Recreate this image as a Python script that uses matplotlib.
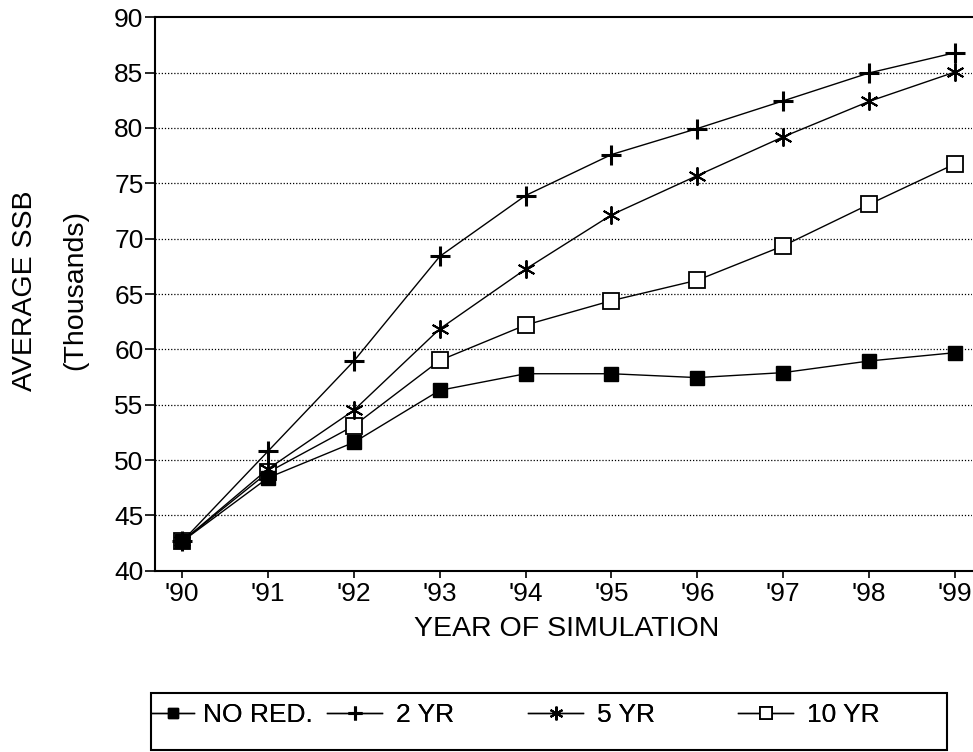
import matplotlib
matplotlib.use("Agg")
import matplotlib.pyplot as plt
from matplotlib.patches import Rectangle

plt.rcParams['font.family'] = ['Liberation Sans', 'DejaVu Sans']

years = ["'90", "'91", "'92", "'93", "'94", "'95", "'96", "'97", "'98", "'99"]
no_red = [42.65, 48.4, 51.6, 56.3, 57.8, 57.8, 57.45, 57.9, 58.95, 59.7]
yr2 = [42.65, 50.8, 58.95, 68.4, 73.9, 77.6, 79.95, 82.45, 84.97, 86.8]
yr5 = [42.65, 49.2, 54.5, 61.85, 67.25, 72.15, 75.7, 79.2, 82.4, 85.05]
yr10 = [42.65, 48.9, 53.1, 59.0, 62.2, 64.4, 66.25, 69.35, 73.1, 76.75]
labels = ["NO RED.", "2 YR", "5 YR", "10 YR"]
yticks = [40, 45, 50, 55, 60, 65, 70, 75, 80, 85, 90]

fig = plt.figure(figsize=(9.73, 7.52), dpi=100)
ax = fig.add_axes([0.159, 0.241, 0.84, 0.736])
x = list(range(len(years)))

l10, = ax.plot(x, yr10, color='black', lw=1.0, marker='s', ms=11, mfc='white', mec='black', mew=1.3, zorder=3)
l5, = ax.plot(x, yr5, color='black', lw=1.0, marker=(6, 2, 0), ms=13, mec='black', mew=1.4, zorder=4)
l2, = ax.plot(x, yr2, color='black', lw=1.0, marker='+', ms=14, mec='black', mew=2.2, zorder=5)
l0, = ax.plot(x, no_red, color='black', lw=1.0, marker='s', ms=10, mfc='black', mec='black', zorder=6)

ax.set_xlim(-0.32, 9.2)
ax.set_ylim(40, 90)
ax.set_yticks(yticks)
ax.set_xticks(x)
ax.set_xticklabels(years)
ax.tick_params(axis='both', labelsize=19, direction='out', width=1.2, colors='black')
ax.tick_params(axis='x', length=5, pad=3)
ax.tick_params(axis='y', length=7, pad=1)
for yv in yticks[1:-1]:
    ax.axhline(yv, color='black', lw=0.9, ls=(0, (1, 1.5)), zorder=1)
ax.spines['right'].set_visible(False)
for s in ['left', 'bottom', 'top']:
    ax.spines[s].set_linewidth(1.5)

fig.text(0.582, 0.164, "YEAR OF SIMULATION", ha='center', va='center', fontsize=20.5)
fig.text(0.026, 0.614, "AVERAGE SSB", rotation=90, ha='center', va='center', fontsize=20.5)
fig.text(0.077, 0.614, "(Thousands)", rotation=90, ha='center', va='center', fontsize=20.5)

# legend box
fig.add_artist(Rectangle((0.155, 0.003), 0.818, 0.076, transform=fig.transFigure,
                         fill=False, edgecolor='black', lw=1.5))
handles = [l0, l2, l5, l10]
starts = [152, 327, 528, 738]
hlens = [1.6, 2.1, 2.1, 2.1]
pads = [0.35, 0.5, 0.5, 0.5]
for hnd, lab, sx, hl, pd in zip(handles, labels, starts, hlens, pads):
    lg = fig.legend([hnd], [lab], loc='center left', bbox_to_anchor=(sx / 973, 0.049),
                    frameon=False, fontsize=19, borderpad=0, borderaxespad=0,
                    handlelength=hl, handletextpad=pd, markerscale=0.75)
    fig.add_artist(lg)

fig.savefig("out.png", dpi=100)
